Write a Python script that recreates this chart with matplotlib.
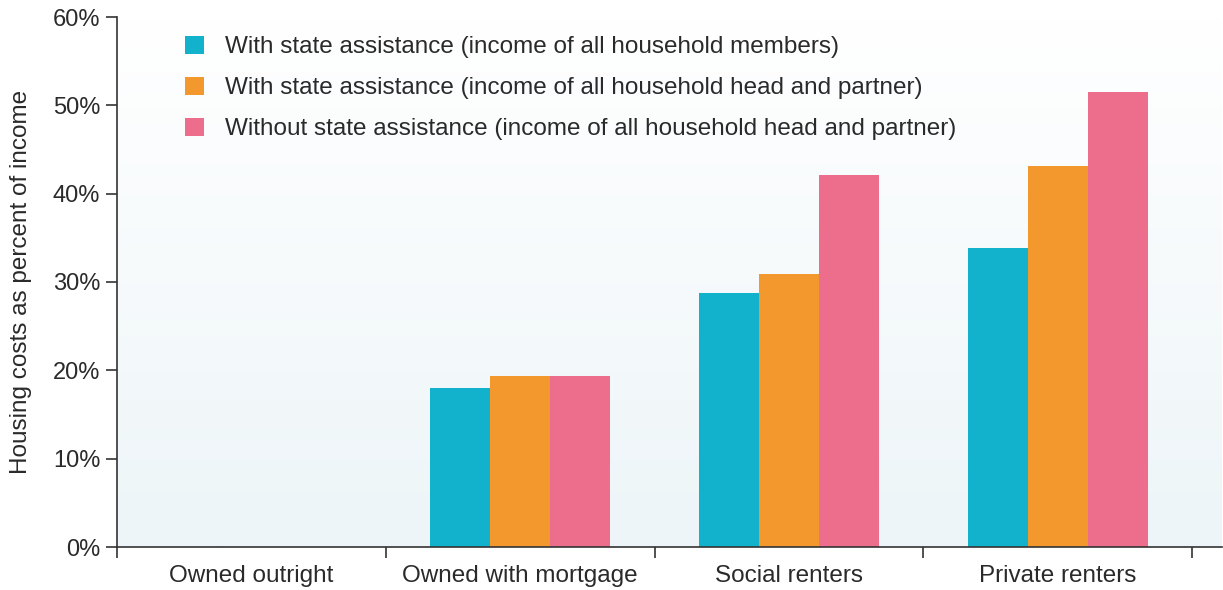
import numpy as np
import matplotlib
matplotlib.use("Agg")
import matplotlib.pyplot as plt
from matplotlib.colors import LinearSegmentedColormap

plt.rcParams['font.family'] = ['Liberation Sans', 'DejaVu Sans']

categories = ["Owned outright", "Owned with mortgage", "Social renters", "Private renters"]
series_names = [
    "With state assistance (income of all household members)",
    "With state assistance (income of all household head and partner)",
    "Without state assistance (income of all household head and partner)",
]
with_all_members = [0.0, 18.0, 28.8, 33.9]
with_head_partner = [0.0, 19.4, 30.9, 43.1]
without_head_partner = [0.0, 19.4, 42.1, 51.5]
y_ticks = [0, 10, 20, 30, 40, 50, 60]
y_label = "Housing costs as percent of income"

colors = ["#12B1CC", "#F3982C", "#EC6E8C"]
text_color = "#2a2a2a"

fig = plt.figure(figsize=(12.23, 5.90), dpi=100)
ax = fig.add_axes([117/1223, 43/590, 1105/1223, 530/590])

x = np.arange(len(categories))
w = 0.223
series = [with_all_members, with_head_partner, without_head_partner]
for i, (vals, name, c) in enumerate(zip(series, series_names, colors)):
    ax.bar(x + (i - 1) * w, vals, width=w, color=c, label=name, linewidth=0, zorder=2)

xl = (-0.5, 3.5 + 30/269)
# gradient background
cmap = LinearSegmentedColormap.from_list("bg", ["#EDF5F8", "#FFFFFF"])
grad = np.linspace(0, 1, 256).reshape(-1, 1)
ax.imshow(grad, extent=[xl[0], xl[1], 0, 60], origin="lower",
          aspect="auto", cmap=cmap, zorder=0)
ax.set_xlim(*xl)
ax.set_ylim(0, 60)

for s in ["top", "right"]:
    ax.spines[s].set_visible(False)
for s in ["left", "bottom"]:
    ax.spines[s].set_color("#333333")
    ax.spines[s].set_linewidth(1.2)

fs = 17.5
ax.set_yticks(y_ticks)
ax.set_yticklabels([f"{t}%" for t in y_ticks])
ax.tick_params(axis="y", direction="out", length=8, width=1.2, color="#333333",
               labelsize=17, labelcolor=text_color, pad=4)

ax.set_xticks(x)
ax.set_xticklabels(categories)
ax.set_xticks(np.arange(-0.5, 4.0, 1.0), minor=True)
ax.tick_params(axis="x", which="major", length=0, labelsize=fs, labelcolor=text_color, pad=13)
ax.tick_params(axis="x", which="minor", direction="out", length=8, width=1.2, color="#333333")

ax.set_ylabel(y_label, fontsize=fs, color=text_color, labelpad=15)

leg = ax.legend(loc="upper left", bbox_to_anchor=(0.053, 0.983), frameon=False,
                fontsize=fs, handlelength=0.78, handleheight=0.78, handletextpad=0.85,
                labelspacing=0.76, borderaxespad=0)
for t in leg.get_texts():
    t.set_color(text_color)

fig.savefig("out.png", dpi=100)
